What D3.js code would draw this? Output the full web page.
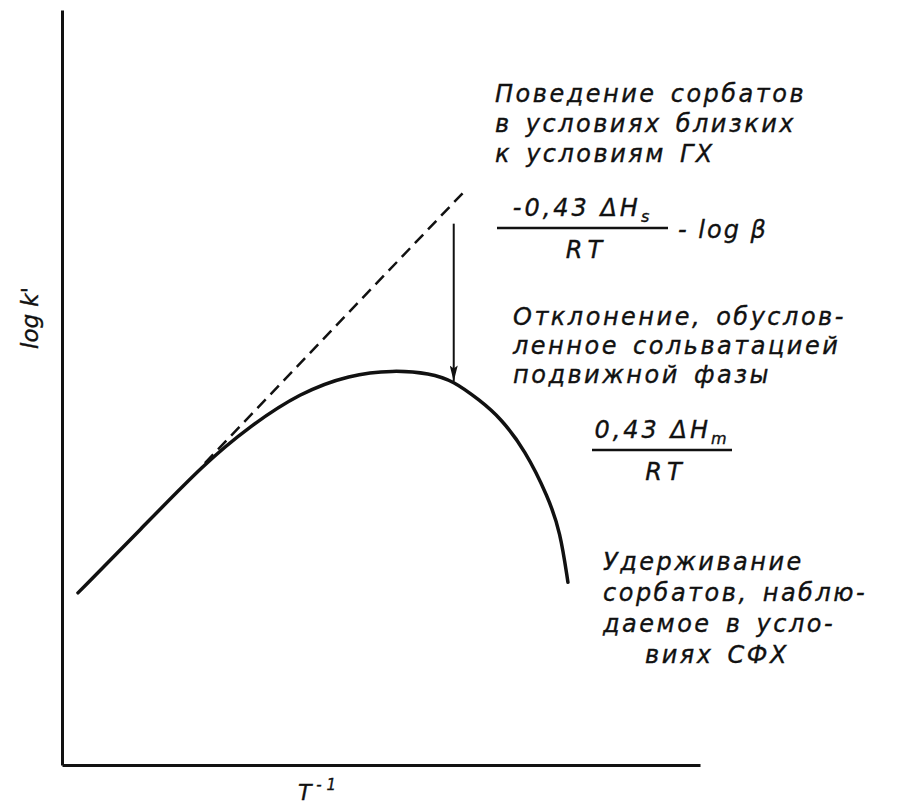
<html>
<meta charset="utf-8" />
<head>
<title>log k' vs T^-1</title>
<script src="https://cdn.jsdelivr.net/npm/d3@7/dist/d3.min.js"></script>
<style>
	body { margin: 0; background: #fff; }
	svg text { font-family: "DejaVu Sans", sans-serif; font-style: italic; fill: #111; stroke: #111; stroke-width: 0.35px; }
</style>
<script>
// кривая удерживания (условные единицы)
const curveX = [0.25, 1.22, 2.24, 2.95, 3.73, 4.51, 5.19, 5.77, 6.13, 6.55, 6.87, 7.26, 7.62, 7.81, 7.93];
const curveY = [2.28, 3.11, 4.00, 4.49, 4.93, 5.17, 5.23, 5.19, 5.09, 4.83, 4.60, 4.17, 3.55, 3.09, 2.42];
// касательная (поведение в условиях ГХ)
const dashX = [2.24, 6.31];
const dashY = [4.00, 7.60];
// стрелка отклонения
const arrowX = [6.14, 6.14];
const arrowY = [7.17, 5.08];

const block1 = ['Поведение сорбатов', 'в условиях близких', 'к условиям ГХ'];
const block2 = ['Отклонение, обуслов-', 'ленное сольватацией', 'подвижной фазы'];
const block3 = ['Удерживание', 'сорбатов, наблю-', 'даемое в усло-', 'виях СФХ'];

window.onload = function() {
	let svg = d3.select('svg');

	let xScale = d3.scaleLinear().domain([0, 10]).range([62, 700]);
	let yScale = d3.scaleLinear().domain([0, 10]).range([765, 10]);

	let xAxis = d3.axisBottom(xScale).tickValues([]).tickSizeOuter(0);
	svg.append('g').attr('transform', 'translate(0, 765)').call(xAxis);
	let yAxis = d3.axisLeft(yScale).tickValues([]).tickSizeOuter(0);
	svg.append('g').attr('transform', 'translate(62, 0)').call(yAxis);
	svg.selectAll('.domain').style('stroke', '#111').style('stroke-width', '3px');

	let line = d3.line()
		.x((d) => xScale(d[0]))
		.y((d) => yScale(d[1]));

	// пунктир
	svg.append('path')
		.datum(d3.zip(dashX, dashY))
		.attr('d', line)
		.style('fill', 'none')
		.style('stroke', '#111')
		.style('stroke-width', '2.5px')
		.style('stroke-dasharray', '12,7');

	// основная кривая
	svg.append('path')
		.datum(d3.zip(curveX, curveY))
		.attr('d', line.curve(d3.curveBasis))
		.style('fill', 'none')
		.style('stroke', '#111')
		.style('stroke-width', '3.5px')
		.style('stroke-linecap', 'round');

	// стрелка
	svg.append('defs').append('marker')
		.attr('id', 'head')
		.attr('viewBox', '0 0 16 8')
		.attr('refX', 16).attr('refY', 4)
		.attr('markerWidth', 16).attr('markerHeight', 8)
		.attr('markerUnits', 'userSpaceOnUse')
		.attr('orient', 'auto')
		.append('path').attr('d', 'M0,0 L16,4 L0,8 L3,4 Z').style('fill', '#111');
	svg.append('line')
		.attr('x1', xScale(arrowX[0])).attr('y1', yScale(arrowY[0]))
		.attr('x2', xScale(arrowX[1])).attr('y2', yScale(arrowY[1]))
		.style('stroke', '#111')
		.style('stroke-width', '2px')
		.attr('marker-end', 'url(#head)');

	function block(lines, x, ys, indent) {
		let t = svg.append('text')
			.style('font-size', '24px').style('letter-spacing', '2.5px').style('word-spacing', '4px');
		t.selectAll('tspan').data(lines).enter().append('tspan')
			.attr('x', (d, i) => x + (indent && i == lines.length - 1 ? indent : 0))
			.attr('y', (d, i) => ys[i])
			.text((d) => d);
	}
	block(block1, 495, [102, 132, 162]);
	block(block2, 513, [325, 354, 383]);
	block(block3, 603, [570, 601, 632, 663], 42);

	// дроби
	function frac(num, sub, x1, x2, yl, extra) {
		let cx = (x1 + x2) / 2;
		let n = svg.append('text').attr('x', cx).attr('y', yl - 12)
			.attr('text-anchor', 'middle')
			.style('font-size', '24px').style('letter-spacing', '3px');
		n.append('tspan').text(num);
		n.append('tspan').attr('dy', 6).style('font-size', '16px').text(sub);
		svg.append('line').attr('x1', x1).attr('x2', x2).attr('y1', yl).attr('y2', yl)
			.style('stroke', '#111').style('stroke-width', '2.5px');
		svg.append('text').attr('x', cx + 4).attr('y', yl + 30)
			.attr('text-anchor', 'middle')
			.style('font-size', '24px').style('letter-spacing', '5px')
			.text('RT');
		if (extra) {
			svg.append('text').attr('x', x2 + 10).attr('y', yl + 10)
				.style('font-size', '24px').style('letter-spacing', '2px')
				.text(extra);
		}
	}
	frac('-0,43 ΔH', 's', 497, 668, 228, '- log β');
	frac('0,43 ΔH', 'm', 592, 732, 450, null);

	// подписи осей
	svg.append('text')
		.attr('transform', 'translate(38, 318) rotate(-90)')
		.attr('text-anchor', 'middle')
		.style('font-size', '23px')
		.text("log k'");
	let tl = svg.append('text').attr('x', 298).attr('y', 800)
		.style('font-size', '22px');
	tl.append('tspan').text('T');
	tl.append('tspan').attr('dy', -10).style('font-size', '15px').text(' - 1');
}
</script>
</head>
<body>
<svg width="900" height="806"></svg>
</body>
</html>
